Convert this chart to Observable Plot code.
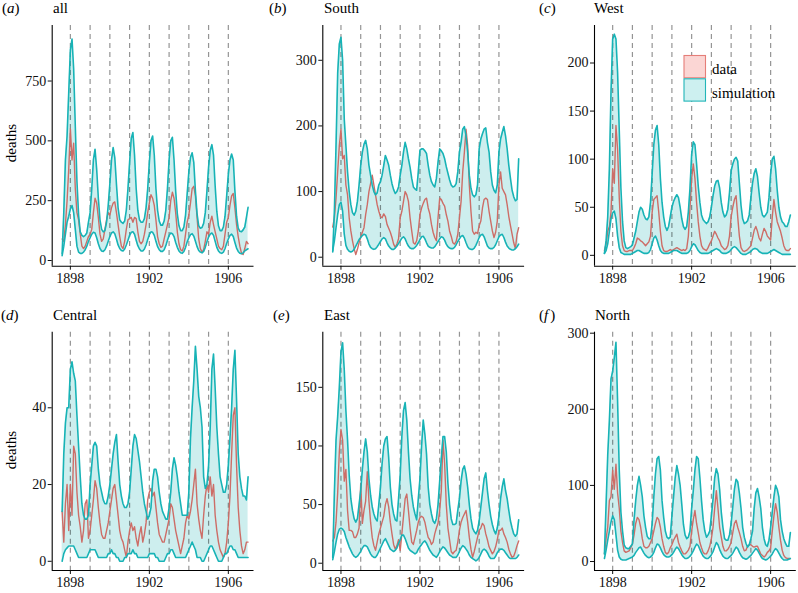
<!DOCTYPE html>
<html><head><meta charset="utf-8">
<script src="https://cdn.jsdelivr.net/npm/d3@7"></script>
<script src="https://cdn.jsdelivr.net/npm/@observablehq/plot@0.6"></script>
<style>
html,body{margin:0;padding:0;background:#fff}
body{width:798px;height:593px;overflow:hidden;position:relative;font-family:"Liberation Serif",serif}
.panel{position:absolute}
#overlay{position:absolute;left:0;top:0;pointer-events:none}
</style></head><body>
<script>
// monthly time points, Aug 1897 .. Jan 1907
const times = d3.range(114).map(i => 1897 + (7 + i) / 12);
const yearLines = [1898,1899,1900,1901,1902,1903,1904,1905,1906];
const xTicks = [1898,1902,1906];
const xDomain = [1897.08, 1907.3];

// (a) all
const aHi = [28,200,420,520,700,
880,925,800,560,330,190,120,105,100,105,115,160,
200,300,420,465,380,260,170,130,120,125,160,230,
320,420,472,430,320,220,170,160,155,165,210,300,
410,510,535,440,300,210,170,160,160,175,220,300,
410,500,520,440,300,210,165,148,148,165,210,300,
420,500,515,420,290,195,145,125,125,140,190,280,
370,430,450,410,290,195,145,135,138,155,200,290,
390,460,484,440,310,205,145,125,125,140,185,270,
360,420,445,420,290,185,135,122,120,128,140,180,
222];
const aLo = [20,60,110,160,185,
215,230,200,130,60,35,30,30,35,45,60,80,
95,110,118,115,95,70,50,40,38,45,60,80,
100,115,120,112,90,65,50,42,40,48,65,85,
105,118,120,110,85,62,48,40,40,48,65,88,
108,120,118,105,80,58,45,38,38,45,62,85,
105,115,112,100,75,55,40,32,30,38,55,78,
95,108,112,102,80,58,42,35,32,38,55,78,
98,110,115,105,80,55,40,32,30,35,50,72,
90,105,110,100,75,52,38,30,28,32,40,45,
49];
const aData = [90,80,150,250,380,
550,420,490,300,200,170,110,60,50,60,80,100,
110,130,200,260,240,180,110,80,90,130,170,200,
190,220,240,245,200,150,100,60,50,80,130,170,
175,180,160,180,175,120,80,70,80,110,150,200,
240,275,260,230,170,100,70,55,60,90,120,150,
180,250,285,260,200,120,70,45,40,60,110,160,
190,240,300,310,270,180,90,50,35,45,80,120,
110,160,185,150,120,90,60,50,45,60,110,160,
180,230,270,280,220,150,100,60,30,25,50,80,
70];

// (b) South
const bHi = [8,70,170,280,325,
335,300,210,170,130,100,80,68,64,70,85,110,
140,160,172,178,165,140,125,110,100,95,98,110,
115,125,140,155,148,140,125,112,103,97,100,107,
125,140,160,175,165,150,137,120,107,104,102,130,
163,165,165,162,158,140,125,115,110,107,120,145,
165,162,158,150,138,128,118,110,107,108,112,130,
160,175,195,199,185,160,125,105,95,92,95,110,
165,180,188,195,197,175,160,130,110,102,98,110,
160,180,190,199,185,165,140,120,102,92,86,88,
150];
const bLo = [10,25,45,65,80,
84,70,35,18,12,9,8,9,12,17,22,27,
30,33,35,34,28,20,15,13,12,13,16,20,
24,28,30,28,22,17,14,12,12,14,17,21,
25,29,31,28,22,17,14,13,13,15,18,22,
27,31,32,28,22,17,15,14,14,16,20,24,
28,31,30,26,20,16,14,13,13,15,19,24,
28,32,33,29,22,16,13,12,12,14,18,24,
30,34,35,31,24,17,14,13,13,15,19,25,
31,34,35,30,23,17,14,12,11,11,13,16,
20];
const bData = [46,60,90,130,170,
195,150,155,110,95,60,40,25,13,4,12,22,
30,38,45,65,80,100,112,125,110,95,80,70,
62,60,66,62,50,44,38,30,20,15,20,28,
60,70,85,100,95,85,60,40,22,20,25,40,
65,75,82,88,90,75,66,50,38,30,25,60,
90,88,82,78,65,55,40,32,22,20,24,35,
60,85,130,160,195,170,110,70,40,35,38,36,
48,55,75,88,90,88,70,55,40,30,38,55,
110,130,105,100,95,80,62,48,35,22,13,35,
45];

// (c) West
const cHi = [2,15,40,90,170,
225,230,225,190,130,70,35,15,8,7,8,9,
11,18,25,35,45,50,48,42,38,37,40,55,
85,115,130,135,115,80,55,40,30,26,30,40,
50,56,60,63,60,50,38,30,27,30,45,70,
105,118,115,95,72,55,42,37,35,33,35,40,
50,62,72,77,78,70,55,45,40,42,48,65,
88,95,100,102,98,75,52,38,33,34,36,42,
60,75,85,90,82,65,50,42,40,42,45,60,
85,100,103,90,68,50,40,35,33,30,30,35,
42];
const cLo = [2,5,12,25,38,
44,46,38,20,8,3,2,1,1,1,1,1,
2,3,4,5,5,4,3,2,2,2,3,6,
12,18,20,16,10,5,3,2,2,2,2,3,
4,5,5,5,4,3,2,2,2,2,3,5,
9,12,11,8,5,3,2,2,2,2,2,3,
4,5,6,7,6,5,3,2,2,2,3,4,
6,8,9,8,6,4,2,1,1,1,2,3,
4,6,7,7,6,4,3,2,2,2,2,3,
4,5,6,5,4,3,2,1,1,1,1,1,
1];
const cData = [5,12,25,30,45,
90,75,135,110,60,25,10,5,4,4,5,5,
5,8,12,18,17,15,14,12,10,12,14,20,
45,58,60,62,45,25,10,5,4,4,5,6,
5,6,7,8,7,6,5,6,5,7,20,50,
80,95,80,55,35,20,10,7,6,5,8,12,
15,20,25,22,18,15,10,8,6,7,10,20,
40,50,58,62,40,20,8,5,4,5,6,8,
10,18,26,30,25,18,15,22,28,25,20,18,
16,40,58,45,35,30,25,18,10,6,5,5,
7];

// (d) Central
const dHi = [13,28,36,40,40,
50,52,49,47,38,30,22,15,12,11,11,12,
20,25,30,31,30,24,20,18,16,15,15,17,
20,24,28,31,33,26,20,17,15,14,14,15,
18,24,30,33,32,29,26,22,18,15,13,11,
12,14,21,24,24,22,18,15,13,12,11,11,
14,18,24,27,25,22,18,15,12,12,12,12,
18,32,40,47,56,50,43,40,35,22,19,20,
25,35,50,54,45,35,28,22,20,18,18,20,
25,32,40,50,55,42,28,22,19,17,17,16,
22];
const dLo = [0,2,3,3.5,4,
4,4,4,3,2,1,1,1,1,1,1,2,
3,3,3,3,2,1,1,1,1,1,1,2,
2,3,2,2,1,1,0,0,0,1,1,2,
2,2,3,2,2,1,1,1,1,1,1,1,
2,2,2,2,1,1,0,0,0,0,1,2,
2,3,3,2,1,1,1,1,1,1,1,2,
3,4,5,4,3,1,1,1,0,0,1,2,
3,4,4,3,2,1,0,0,0,1,2,2,
3,4,4,3,3,2,1,1,1,1,1,1,
1];
const dData = [13,5,15,20,8,
20,12,30,28,18,12,9,5,8,15,16,6,
8,12,16,21,19,14,10,7,6,6,8,10,
13,16,19,20,16,12,8,6,5,3,1,5,
8,10,8,9,6,4,7,9,5,7,10,16,
18,19,17,18,14,10,7,6,5,5,7,9,
11,15,14,11,8,6,4,2,4,6,10,12,
11,13,16,20,24,15,11,8,6,12,17,20,
18,22,17,20,12,8,5,3,2,1,2,5,
10,17,28,38,40,25,14,8,4,2,3,5,
5];

// (e) East
const eHi = [5,60,105,125,150,
180,188,165,130,105,75,55,45,38,35,38,50,
62,80,95,106,95,72,58,48,42,38,36,50,
65,85,100,106,108,90,65,50,42,37,36,55,
75,108,130,137,122,95,72,58,48,42,37,55,
72,100,122,110,93,65,50,42,36,34,38,50,
70,90,108,108,95,68,50,38,33,33,34,45,
55,70,80,83,76,65,50,38,30,27,25,28,
36,48,60,72,77,62,50,40,33,28,25,30,
40,55,65,72,62,55,45,36,30,25,23,25,
37];
const eLo = [3,10,18,25,29,
30,29,27,22,18,14,11,8,6,5,6,8,
10,13,15,15,14,11,8,6,5,5,7,10,
13,16,19,21,18,15,12,11,10,11,13,17,
20,24,24,21,17,13,11,10,9,8,9,12,
14,16,18,19,17,14,11,9,7,6,5,7,
10,12,14,13,11,9,7,6,5,5,5,7,
10,13,15,14,12,10,7,5,4,3,2,3,
5,8,11,12,11,9,6,4,4,4,6,9,
11,12,12,11,9,7,5,4,4,4,4,5,
7];
const eData = [19,22,35,60,95,
114,105,70,80,45,28,28,27,22,22,25,30,
68,34,45,53,78,53,35,22,15,11,18,25,
30,35,40,50,55,48,35,25,16,12,15,20,
11,25,40,55,59,45,30,18,16,22,28,35,
39,40,39,35,28,22,20,16,18,25,30,34,
45,62,105,85,50,30,20,10,8,10,11,18,
28,35,39,42,45,35,22,12,5,10,16,22,
28,30,34,32,25,20,14,11,8,10,14,20,
28,28,30,25,22,18,12,8,5,6,10,15,
19];

// (f) North
const fHi = [10,75,140,185,240,
250,268,288,210,120,65,40,22,18,17,17,20,
23,55,80,100,112,100,85,60,45,33,30,30,
50,85,115,135,138,120,80,58,40,32,30,32,
60,85,110,126,115,100,75,49,35,30,32,40,
70,93,120,138,135,110,80,55,40,32,35,40,
60,82,110,122,115,95,65,45,30,28,28,35,
50,72,95,108,105,90,70,45,32,24,19,22,
30,40,70,90,96,85,70,45,30,22,20,28,
45,65,85,100,95,85,55,40,30,24,20,20,
38];
const fLo = [4,15,28,40,52,
60,55,35,15,6,3,2,2,2,3,4,5,
6,8,12,15,18,19,15,11,8,6,5,6,
8,12,18,23,22,18,13,9,7,6,6,7,
9,12,16,19,17,13,9,6,4,4,5,7,
10,14,19,23,21,16,11,7,5,4,4,6,
9,13,19,25,22,16,11,7,5,4,4,6,
8,11,15,19,17,12,8,5,4,3,4,6,
8,11,14,17,15,11,7,4,3,2,3,5,
7,10,14,17,15,11,7,4,2,2,2,3,
4];
const fData = [10,30,45,80,85,
120,95,128,90,70,40,25,14,12,13,14,18,
23,35,50,58,55,45,30,20,18,18,20,25,
30,40,50,58,55,45,30,20,12,10,12,18,
22,28,32,36,25,19,14,10,10,12,15,20,
40,55,67,50,38,25,18,12,10,10,14,20,
30,45,70,93,70,45,32,20,14,14,16,20,
25,38,50,54,45,38,30,20,14,15,20,22,
22,20,19,20,20,15,10,8,6,8,12,14,
18,40,60,76,65,45,28,15,8,5,4,4,
4];

const letters = ["a","b","c","d","e","f"];
const titles = ["all","South","West","Central","East","North"];
const yTicks = [[0,250,500,750],[0,100,200,300],[0,50,100,150,200],[0,20,40],[0,50,100,150],[0,100,200,300]];
const yDomains = [[-23.8,982],[-13.7,353],[-11.3,239],[-2.4,59.7],[-6.2,197],[-11.8,301.3]];
const series = [[aHi,aLo,aData],[bHi,bLo,bData],[cHi,cLo,cData],[dHi,dLo,dData],[eHi,eLo,eData],[fHi,fLo,fData]];
const legendLabels = ["data","simulation"];

// layout
const colAxisX = [51.7, 322.3, 594];
const plotW = 201.8;
const rowGeom = [{top:0, mt:25, inner:240.7, h:293}, {top:306, mt:25.7, inner:238.3, h:289}];

const TEAL = "#17b3b6", FILL = "#cdeeee", RED = "#cd6d67";
const FONT = '"Liberation Serif", serif';
const TICK_FS = 14;

series.forEach(([hi, lo, dat], k) => {
  const col = k % 3, row = Math.floor(k / 3);
  const g = rowGeom[row];
  const left = col * 266;
  const ml = colAxisX[col] - left;
  const mr = 266 - ml - plotW;
  const mb = g.h - g.mt - g.inner;
  const rows = times.map((t, i) => ({t, hi: hi[i], lo: lo[i], d: dat[i]}));
  const yd = yDomains[k];
  const chart = Plot.plot({
    width: 266, height: g.h,
    marginLeft: ml, marginRight: mr, marginTop: g.mt, marginBottom: mb,
    style: {fontFamily: FONT, color: "#111", background: "transparent", overflow: "visible"},
    x: {domain: xDomain, label: null},
    y: {domain: yd, label: null},
    marks: [
      Plot.areaY(rows, {x: "t", y1: "lo", y2: "hi", fill: FILL}),
      Plot.ruleX(yearLines, {stroke: "#000", strokeOpacity: 0.42, strokeWidth: 1.2, strokeDasharray: "5,4"}),
      Plot.line(rows, {x: "t", y: "d", stroke: RED, strokeWidth: 1.4}),
      Plot.line(rows, {x: "t", y: "hi", stroke: TEAL, strokeWidth: 1.6}),
      Plot.line(rows, {x: "t", y: "lo", stroke: TEAL, strokeWidth: 1.6}),
      Plot.axisX({ticks: xTicks, tickFormat: d => String(d), tickSize: 4, tickPadding: 3, fontSize: TICK_FS}),
      Plot.axisY({ticks: yTicks[k], tickSize: 4, tickPadding: 2, fontSize: TICK_FS}),
      Plot.ruleX([xDomain[0]], {stroke: "#000", strokeWidth: 1.1}),
      Plot.ruleY([yd[0]], {stroke: "#000", strokeWidth: 1.1})
    ]
  });
  d3.select(chart).selectAll("text")
    .style("font-size", TICK_FS + "px")
    .style("font-family", FONT)
    .style("fill", "#111");
  const div = document.createElement("div");
  div.className = "panel";
  div.style.left = left + "px";
  div.style.top = g.top + "px";
  div.appendChild(chart);
  document.body.appendChild(div);
});

// text overlay: panel letters, titles, y labels, legend
const ov = d3.select("body").append("svg").attr("id", "overlay").attr("width", 798).attr("height", 593)
  .style("font-family", FONT).style("font-size", "15px");
const labelPos = [[2,53,13],[269,324,13],[539,594,13],[1,53,319.5],[273,324,319.5],[539,595,319.5]];
labelPos.forEach(([lx, tx, by], k) => {
  const t = ov.append("text").attr("x", lx).attr("y", by).attr("fill", "#000");
  t.append("tspan").text("(");
  t.append("tspan").attr("font-style", "italic").text(letters[k]);
  t.append("tspan").attr("dx", letters[k] === "f" ? 2 : 0).text(")");
  ov.append("text").attr("x", tx).attr("y", by).attr("fill", "#000").text(titles[k]);
});
[143, 450].forEach(cy => {
  ov.append("text").attr("transform", `translate(15.5,${cy}) rotate(-90)`)
    .attr("text-anchor", "middle").attr("fill", "#000").text("deaths");
});
// legend (panel c)
const lg = ov.append("g");
const swatch = [{fill: "#fbd6d4", stroke: "#e57e78"}, {fill: "#cdf0f0", stroke: "#22b5b8"}];
legendLabels.forEach((lab, i) => {
  lg.append("rect").attr("x", 684).attr("y", 55.5 + i * 23.3).attr("width", 21.5).attr("height", 22.3)
    .attr("fill", swatch[i].fill).attr("stroke", swatch[i].stroke).attr("stroke-width", 1.1);
  lg.append("text").attr("x", 712).attr("y", 73.5 + i * 24.5).attr("fill", "#000").text(lab);
});
</script>
</body></html>
